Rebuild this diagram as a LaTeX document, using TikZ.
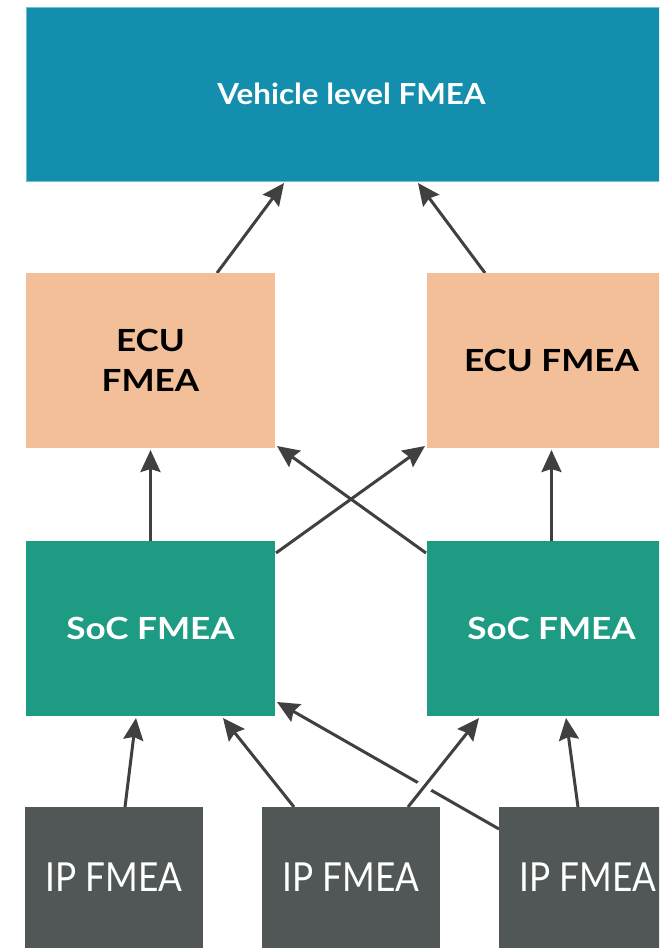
\documentclass[tikz,border=0pt]{standalone}
\usepackage{fontspec}
\setmainfont{Lato}
\newfontfamily\capsfont[FakeStretch=1.15]{Lato}
\newfontfamily\vehfont[FakeStretch=1.08]{Lato}
\newfontfamily\ipfont[FakeStretch=0.88]{Lato}
\usetikzlibrary{arrows.meta,calc,backgrounds}
\definecolor{vehcol}{HTML}{138EAD}
\definecolor{vehedge}{HTML}{6FBFD6}
\definecolor{ecucol}{HTML}{F2BF98}
\definecolor{soccol}{HTML}{1D9B83}
\definecolor{ipcol}{HTML}{515757}
\definecolor{arrowcol}{HTML}{404040}
\begin{document}
\begin{tikzpicture}[x=1pt,y=-1pt,
  blk/.style={rectangle, inner sep=0pt, outer sep=0pt, align=center},
  vehbox/.style={blk, fill=vehcol, draw=vehedge, line width=0.8pt, text=white,
    minimum width=651pt, minimum height=174pt,
    font=\vehfont\bfseries\fontsize{29}{34}\selectfont},
  ecubox/.style={blk, fill=ecucol, text=black, minimum width=249pt, minimum height=175pt,
    font=\capsfont\bfseries\fontsize{30.5}{40.5}\selectfont},
  socbox/.style={blk, fill=soccol, text=white, minimum width=249pt, minimum height=175pt,
    font=\capsfont\bfseries\fontsize{30.5}{34}\selectfont},
  ipbox/.style={blk, fill=ipcol, text=white, minimum width=178pt, minimum height=141pt,
    font=\ipfont\fontsize{40}{48}\selectfont},
  conn/.style={draw=arrowcol, line width=3pt, -{Stealth[length=22pt,width=20pt,inset=3pt]}},
  gapwhite/.style={preaction={draw=white, line width=15pt, -}}
]
\useasboundingbox (0,0) rectangle (659,948);
\clip (0,0) rectangle (659,948);

\node[vehbox] (veh) at (351.5,94) {Vehicle level FMEA};
\node[ecubox] (ecuL) at (150.5,360.5) {ECU\\FMEA};
\node[ecubox] (ecuR) at (551.5,360.5) {ECU FMEA};
\node[socbox] (socL) at (150.5,628.5) {SoC FMEA};
\node[socbox] (socR) at (551.5,628.5) {SoC FMEA};
\node[ipbox] (ip1) at (114,877.5) {IP FMEA};
\node[ipbox] (ip2) at (351,877.5) {IP FMEA};
\node[ipbox] (ip3) at (588,877.5) {IP FMEA};

\begin{scope}[on background layer]
  \fill[white] (0,0) rectangle (659,948);
  \draw[conn] ($(ecuL.north)+(66.5,0)$) -- ($(veh.south)+(-67.5,2)$);
  \draw[conn] ($(ecuR.north)+(-66.5,0)$) -- ($(veh.south)+(66.5,2)$);
  \draw[conn] (socL.north) -- ($(ecuL.south)+(0,2)$);
  \draw[conn] (socR.north) -- ($(ecuR.south)+(0,2)$);
  \draw[conn] ($(socL.north east)+(1,12)$) -- ($(ecuR.south west)+(-2,-2)$);
  \draw[conn] ($(socR.north west)+(-1,12)$) -- ($(ecuL.south east)+(2,-2)$);
  \draw[conn] ($(ip1.north)+(11,0)$) -- ($(socL.south)+(-14.5,2)$);
  \draw[conn] ($(ip2.north)+(-57,0)$) -- ($(socL.south)+(72.5,2)$);
  \draw[conn] ($(ip3.north west)+(0,22)$) -- ($(socL.south east)+(2,-14)$);
  \draw[conn, gapwhite] ($(ip2.north)+(57,0)$) -- ($(socR.south)+(-72.5,2)$);
  \draw[conn] ($(ip3.north)+(-10,0)$) -- ($(socR.south)+(14.5,2)$);
\end{scope}
\end{tikzpicture}
\end{document}
